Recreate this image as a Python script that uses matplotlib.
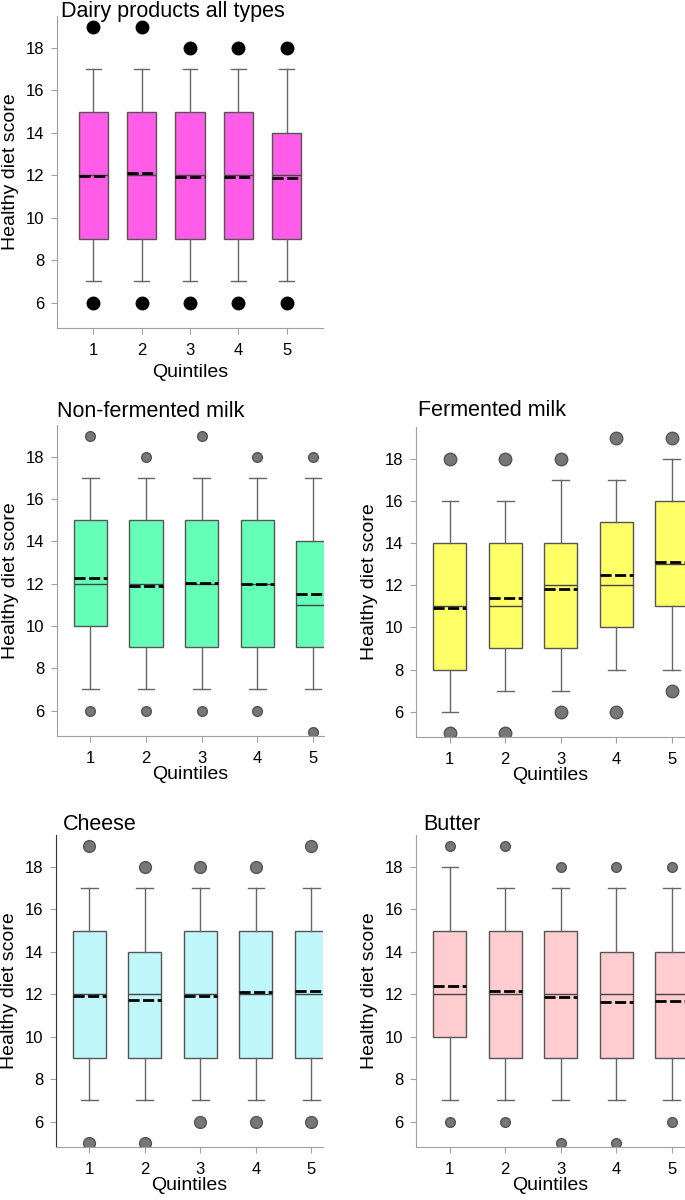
import numpy as np
import matplotlib
matplotlib.use('Agg')
import matplotlib.pyplot as plt

plt.rcParams['font.family'] = ['Liberation Sans', 'DejaVu Sans']
plt.rcParams['lines.scale_dashes'] = False

quintiles = [1, 2, 3, 4, 5]

# per quintile: lower whisker, q1, median, q3, upper whisker, mean, outliers
dairy_lo = [7, 7, 7, 7, 7]
dairy_q1 = [9, 9, 9, 9, 9]
dairy_med = [12, 12, 12, 12, 12]
dairy_q3 = [15, 15, 15, 15, 14]
dairy_hi = [17, 17, 17, 17, 17]
dairy_mean = [11.95, 12.1, 11.9, 11.93, 11.85]
dairy_out = [[6, 19], [6, 19], [6, 18], [6, 18], [6, 18]]

nonferm_lo = [7, 7, 7, 7, 7]
nonferm_q1 = [10, 9, 9, 9, 9]
nonferm_med = [12, 12, 12, 12, 11]
nonferm_q3 = [15, 15, 15, 15, 14]
nonferm_hi = [17, 17, 17, 17, 17]
nonferm_mean = [12.27, 11.9, 12.05, 12.0, 11.52]
nonferm_out = [[6, 19], [6, 18], [6, 19], [6, 18], [5, 18]]

ferm_lo = [6, 7, 7, 8, 8]
ferm_q1 = [8, 9, 9, 10, 11]
ferm_med = [11, 11, 12, 12, 13]
ferm_q3 = [14, 14, 14, 15, 16]
ferm_hi = [16, 16, 17, 17, 18]
ferm_mean = [10.92, 11.37, 11.8, 12.5, 13.1]
ferm_out = [[5, 18], [5, 18], [6, 18], [6, 19], [7, 19]]

cheese_lo = [7, 7, 7, 7, 7]
cheese_q1 = [9, 9, 9, 9, 9]
cheese_med = [12, 12, 12, 12, 12]
cheese_q3 = [15, 14, 15, 15, 15]
cheese_hi = [17, 17, 17, 17, 17]
cheese_mean = [11.9, 11.72, 11.9, 12.08, 12.13]
cheese_out = [[5, 19], [5, 18], [6, 18], [6, 18], [6, 19]]

butter_lo = [7, 7, 7, 7, 7]
butter_q1 = [10, 9, 9, 9, 9]
butter_med = [12, 12, 12, 12, 12]
butter_q3 = [15, 15, 15, 14, 14]
butter_hi = [18, 17, 17, 17, 17]
butter_mean = [12.37, 12.17, 11.87, 11.65, 11.7]
butter_out = [[6, 19], [6, 19], [5, 18], [5, 18], [6, 18]]


def make_stats(lo, q1, med, q3, hi, mean, out):
    stats = []
    for i in range(len(lo)):
        stats.append(dict(whislo=lo[i], q1=q1[i], med=med[i], q3=q3[i],
                          whishi=hi[i], mean=mean[i], fliers=out[i]))
    return stats


fig = plt.figure(figsize=(6.85, 12), dpi=100)
W, H = 685.0, 1200.0


def panel(px, title, tpos, stats, color, xlim, flier_col, flier_size,
          spine_col='#a0a0a0', xlabelpad=0):
    x0, x1, y0, y1 = px
    ax = fig.add_axes([x0 / W, 1 - y1 / H, (x1 - x0) / W, (y1 - y0) / H])
    ax.bxp(stats, positions=quintiles, widths=0.6, patch_artist=True,
           showmeans=True, meanline=True,
           boxprops=dict(facecolor=color, edgecolor='#555555', linewidth=1),
           medianprops=dict(color='#444444', linewidth=1),
           meanprops=dict(color='black', linestyle=(0, (8, 2.5)), linewidth=2),
           whiskerprops=dict(color='#666666', linewidth=1),
           capprops=dict(color='#666666', linewidth=1),
           capwidths=0.3,
           flierprops=dict(marker='o', markerfacecolor=flier_col,
                           markeredgecolor='#555555' if flier_col != 'black' else 'black',
                           markersize=flier_size, linestyle='none'))
    ax.set_xlim(*xlim)
    ax.set_ylim(4.8, 19.5)
    ax.set_yticks([6, 8, 10, 12, 14, 16, 18])
    ax.set_xticks(quintiles)
    ax.set_xticklabels([str(q) for q in quintiles])
    ax.tick_params(labelsize=12, length=4, color='#a0a0a0')
    ax.tick_params(axis='x', pad=7)
    ax.tick_params(axis='y', pad=5)
    for s in ['top', 'right']:
        ax.spines[s].set_visible(False)
    ax.spines['left'].set_color(spine_col)
    ax.spines['bottom'].set_color('#a0a0a0')
    ax.set_xlabel('Quintiles', fontsize=14, labelpad=xlabelpad)
    ax.set_ylabel('Healthy diet score', fontsize=14, labelpad=5)
    fig.text(tpos[0] / W, 1 - tpos[1] / H, title, fontsize=15.5, ha='left', va='center')
    return ax


panel((57, 323, 16, 328), 'Dairy products all types', (61, 11),
      make_stats(dairy_lo, dairy_q1, dairy_med, dairy_q3, dairy_hi, dairy_mean, dairy_out),
      '#ff5ce8', (0.25, 5.75), 'black', 9, xlabelpad=4)
panel((57, 324, 425, 736), 'Non-fermented milk', (57, 412),
      make_stats(nonferm_lo, nonferm_q1, nonferm_med, nonferm_q3, nonferm_hi, nonferm_mean, nonferm_out),
      '#66ffb8', (0.4, 5.2), '#777777', 7)
panel((416, 685, 427, 737), 'Fermented milk', (418, 411),
      make_stats(ferm_lo, ferm_q1, ferm_med, ferm_q3, ferm_hi, ferm_mean, ferm_out),
      '#ffff66', (0.39, 5.24), '#777777', 9)
panel((56, 323, 835, 1147), 'Cheese', (63, 825),
      make_stats(cheese_lo, cheese_q1, cheese_med, cheese_q3, cheese_hi, cheese_mean, cheese_out),
      '#bff7fb', (0.4, 5.21), '#777777', 8.5, spine_col='#333333')
panel((416, 685, 835, 1147), 'Butter', (423, 824),
      make_stats(butter_lo, butter_q1, butter_med, butter_q3, butter_hi, butter_mean, butter_out),
      '#ffcccf', (0.39, 5.24), '#777777', 7)

fig.savefig('out.png', dpi=100)
